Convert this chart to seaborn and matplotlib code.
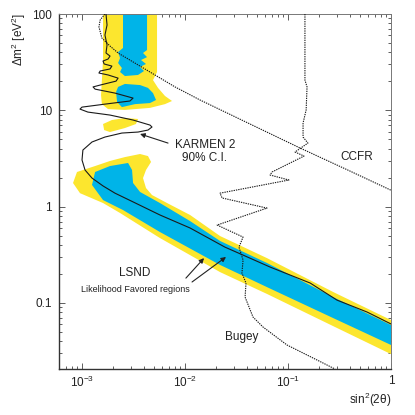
import matplotlib
matplotlib.use("Agg")
import matplotlib.pyplot as plt
import seaborn as sns
from matplotlib.ticker import FixedLocator, FixedFormatter, LogLocator, NullFormatter

# KARMEN 2 90% C.I. exclusion curve (sin^2(2theta), dm^2)
karmen_x = [1.71e-3, 1.75e-3, 1.67e-3, 1.75e-3, 1.71e-3, 1.87e-3, 1.79e-3, 1.60e-3, 1.64e-3,
            1.95e-3, 1.87e-3, 1.50e-3, 1.46e-3, 1.79e-3, 2.24e-3, 2.14e-3, 1.50e-3, 1.28e-3,
            1.34e-3, 2.09e-3, 3.13e-3, 2.92e-3, 1.67e-3, 1.00e-3, 9.56e-4, 1.14e-3, 1.87e-3,
            3.13e-3, 4.57e-3, 4.78e-3, 4.37e-3, 3.50e-3, 2.44e-3, 1.67e-3, 1.25e-3, 1.02e-3,
            1.00e-3, 1.07e-3, 1.25e-3, 1.60e-3, 2.09e-3, 3.13e-3, 5.71e-3, 1.12e-2, 2.44e-2,
            3.66e-2, 6.69e-2, 0.164, 0.299, 0.585, 1.0]
karmen_y = [100, 76.9, 60.5, 47.7, 39.4, 36.6, 34.1, 32.5, 30.3, 28.8, 26.9, 25.6, 24.4, 23.3,
            21.6, 20.1, 18.3, 17.5, 16.6, 15.1, 13.4, 12.5, 11.6, 10.8, 10.3, 9.59, 8.93, 7.93,
            7.03, 6.71, 6.24, 5.95, 5.81, 5.28, 4.69, 3.87, 3.05, 2.40, 1.98, 1.64, 1.38, 1.12,
            0.819, 0.600, 0.380, 0.314, 0.236, 0.161, 0.107, 0.0805, 0.0605]

# CCFR limit
ccfr_x = [1.67e-3, 1.50e-3, 1.46e-3, 1.56e-3, 1.87e-3, 2.24e-3, 3.66e-3, 8.00e-3, 1.40e-2,
          4.28e-2, 0.131, 0.400, 1.0]
ccfr_y = [100, 86.7, 73.3, 56.3, 46.5, 39.4, 28.8, 17.5, 12.8, 7.21, 4.06, 2.34, 1.48]

# Bugey limit
bugey_x = [0.146, 0.146, 0.153, 0.150, 0.140, 0.140, 0.156, 0.117, 0.143, 0.070, 0.067, 0.102,
           0.0219, 0.0229, 0.0625, 0.0205, 0.0366, 0.0334, 0.0366, 0.0357, 0.0391, 0.0383,
           0.0457, 0.0572, 0.0977, 0.175, 0.286]
bugey_y = [100, 20.6, 17.5, 10.1, 7.38, 5.28, 4.57, 3.69, 3.35, 2.29, 2.13, 1.89, 1.38, 1.23,
           0.966, 0.644, 0.483, 0.380, 0.279, 0.204, 0.161, 0.115, 0.0714, 0.0562, 0.0366,
           0.0268, 0.0206]

# LSND favored regions: outer (yellow) and inner (blue)
yellow_top_x = [1.60e-3, 5.35e-3, 5.35e-3, 4.89e-3, 5.47e-3, 6.39e-3, 7.48e-3, 6.39e-3, 4.57e-3,
                2.61e-3, 1.79e-3, 1.56e-3, 1.53e-3, 1.60e-3]
yellow_top_y = [100, 100, 25.0, 20.6, 17.1, 14.1, 12.5, 11.6, 10.6, 10.1, 10.3, 11.6, 14.4, 33.3]

yellow_isl_x = [1.60e-3, 1.95e-3, 2.61e-3, 3.50e-3, 3.34e-3, 2.61e-3, 1.87e-3, 1.64e-3]
yellow_isl_y = [7.21, 7.93, 8.32, 8.13, 7.21, 6.55, 5.95, 6.24]

yellow_main_x = [8.94e-4, 1.34e-3, 1.87e-3, 2.61e-3, 3.66e-3, 4.37e-3, 4.68e-3, 4.18e-3, 3.91e-3,
                 4.18e-3, 4.78e-3, 6.69e-3, 1.12e-2, 2.19e-2, 6.25e-2, 0.274, 1.0,
                 1.0, 0.274, 0.0625, 2.19e-2, 5.71e-3, 2.34e-3, 1.60e-3, 9.56e-4, 8.18e-4]
yellow_main_y = [2.29, 2.64, 2.98, 3.27, 3.52, 3.35, 2.91, 2.40, 1.98, 1.56, 1.32, 1.09, 0.819,
                 0.495, 0.292, 0.130, 0.0664,
                 0.0294, 0.0575, 0.124, 0.209, 0.472, 0.859, 1.09, 1.38, 1.76]

blue_top_x = [2.50e-3, 4.28e-3, 4.28e-3, 3.91e-3, 4.28e-3, 3.74e-3, 4.18e-3, 3.66e-3, 4.00e-3,
              3.50e-3, 2.61e-3, 2.34e-3, 2.44e-3, 2.24e-3, 2.34e-3, 2.24e-3, 2.50e-3]
blue_top_y = [100, 100, 42.3, 39.4, 35.7, 33.3, 30.3, 28.2, 25.6, 23.3, 22.7, 25.0, 27.5, 31.0,
              34.9, 40.3, 44.4]

blue_blob_x = [2.24e-3, 2.61e-3, 3.66e-3, 4.37e-3, 4.89e-3, 5.23e-3, 4.57e-3, 3.27e-3, 2.44e-3,
               2.19e-3, 2.14e-3]
blue_blob_y = [17.5, 18.8, 18.3, 17.1, 15.1, 12.8, 11.9, 11.6, 10.8, 12.2, 15.5]

blue_main_x = [1.34e-3, 1.87e-3, 2.80e-3, 3.06e-3, 3.13e-3, 3.66e-3, 5.71e-3, 1.12e-2, 2.19e-2,
               6.25e-2, 0.274, 1.0,
               1.0, 0.274, 0.0625, 2.19e-2, 5.71e-3, 2.50e-3, 1.60e-3, 1.25e-3]
blue_main_y = [2.29, 2.64, 2.84, 2.40, 1.76, 1.42, 1.09, 0.708, 0.440, 0.260, 0.115, 0.0590,
               0.0366, 0.0697, 0.146, 0.248, 0.545, 0.922, 1.17, 1.68]

YELLOW = '#FCE62E'
BLUE = '#00B4E8'

sns.set_style("ticks")
plt.rcParams['font.family'] = ['Liberation Sans', 'DejaVu Sans']
plt.rcParams['mathtext.fontset'] = 'custom'
plt.rcParams['mathtext.rm'] = 'Liberation Sans'

fig = plt.figure(figsize=(4.15, 4.15), dpi=100)
ax = fig.add_axes([0.1422, 0.1108, 0.80, 0.8554])
ax.set_xscale('log')
ax.set_yscale('log')

for xs, ys in [(yellow_top_x, yellow_top_y), (yellow_isl_x, yellow_isl_y),
               (yellow_main_x, yellow_main_y)]:
    ax.fill(xs, ys, color=YELLOW, lw=0, zorder=1)
for xs, ys in [(blue_top_x, blue_top_y), (blue_blob_x, blue_blob_y),
               (blue_main_x, blue_main_y)]:
    ax.fill(xs, ys, color=BLUE, lw=0, zorder=2)

sns.lineplot(x=karmen_x, y=karmen_y, sort=False, estimator=None, color='#1a1a1a',
             lw=0.8, ax=ax, zorder=4)
sns.lineplot(x=ccfr_x, y=ccfr_y, sort=False, estimator=None, color='#1a1a1a',
             lw=0.8, ls=(0, (1.2, 0.9)), ax=ax, zorder=4)
sns.lineplot(x=bugey_x, y=bugey_y, sort=False, estimator=None, color='#1a1a1a',
             lw=0.8, ls=(0, (1.2, 0.9)), ax=ax, zorder=4)
for ln in ax.get_lines():
    ln.set_solid_joinstyle('round')

ax.set_xlim(5.98e-4, 1.0)
ax.set_ylim(0.0206, 100)

ax.xaxis.set_major_locator(FixedLocator([1e-3, 1e-2, 1e-1, 1]))
ax.xaxis.set_major_formatter(FixedFormatter(['10$^{-3}$', '10$^{-2}$', '10$^{-1}$', '1']))
ax.yaxis.set_major_locator(FixedLocator([0.1, 1, 10, 100]))
ax.yaxis.set_major_formatter(FixedFormatter(['0.1', '1', '10', '100']))
for axis in (ax.xaxis, ax.yaxis):
    axis.set_minor_locator(LogLocator(base=10, subs=range(2, 10), numticks=20))
    axis.set_minor_formatter(NullFormatter())

ax.tick_params(which='both', direction='in', top=True, right=True, width=0.6,
               color='#444444', labelsize=8.5, labelcolor='#222222')
ax.tick_params(which='major', length=4.5)
ax.tick_params(which='minor', length=2.5)
ax.tick_params(axis='y', pad=5)
ax.tick_params(axis='x', pad=4)
for side in ['left', 'bottom']:
    ax.spines[side].set_linewidth(1.0)
    ax.spines[side].set_color('#333333')
for side in ['top', 'right']:
    ax.spines[side].set_linewidth(0.7)
    ax.spines[side].set_color('#777777')
ax.set_xlabel('')
ax.set_ylabel('')

# annotations
ax.text(0.0156, 4.37, 'KARMEN 2', ha='center', va='center', fontsize=8.5, color='#222222')
ax.text(0.0156, 3.20, '90% C.I.', ha='center', va='center', fontsize=8.5, color='#222222')
ax.annotate('', xy=(3.66e-3, 5.68), xytext=(6.84e-3, 4.57),
            arrowprops=dict(arrowstyle='-|>', color='#222222', lw=0.8,
                            mutation_scale=7, shrinkA=0, shrinkB=0))
ax.text(0.468, 3.27, 'CCFR', ha='center', va='center', fontsize=8.5, color='#222222')
ax.text(3.27e-3, 0.204, 'LSND', ha='center', va='center', fontsize=8.5, color='#222222')
ax.text(3.27e-3, 0.139, 'Likelihood Favored regions', ha='center', va='center',
        fontsize=6.5, color='#222222')
for start, end in [((1.02e-2, 0.181), (1.53e-2, 0.292)), ((1.17e-2, 0.165), (2.50e-2, 0.300))]:
    ax.annotate('', xy=end, xytext=start,
                arrowprops=dict(arrowstyle='-|>', color='#222222', lw=0.8,
                                mutation_scale=7, shrinkA=0, shrinkB=0))
ax.text(3.57e-2, 0.0443, 'Bugey', ha='center', va='center', fontsize=8.5, color='#222222')

fig.text(0.045, 0.905, 'Δm$^2$ [eV$^2$]', rotation=90, ha='center', va='center',
         fontsize=8.5, color='#222222')
fig.text(0.942, 0.036, 'sin$^2$(2θ)', ha='right', va='center', fontsize=8.5, color='#222222')

fig.savefig('out.png', dpi=100)
